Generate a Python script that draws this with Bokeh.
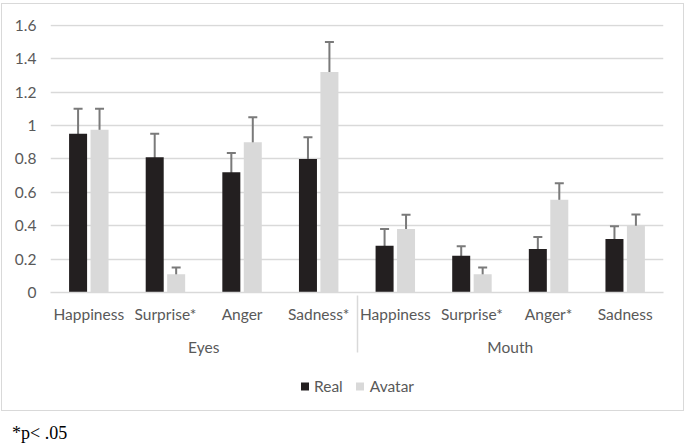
from bokeh.plotting import figure
from bokeh.models import (FactorRange, ColumnDataSource, Whisker, Legend, LegendItem,
                          Div, FixedTicker, Range1d)
from bokeh.transform import dodge
from bokeh.layouts import column
from bokeh.embed import file_html
from bokeh.resources import INLINE

# ---- data ----
regions = ["Eyes", "Eyes", "Eyes", "Eyes", "Mouth", "Mouth", "Mouth", "Mouth"]
emotions = ["Happiness", "Surprise*", "Anger", "Sadness*",
            "Happiness", "Surprise*", "Anger*", "Sadness"]
real_mean = [0.95, 0.81, 0.72, 0.80, 0.28, 0.22, 0.26, 0.32]
real_err = [0.15, 0.14, 0.115, 0.13, 0.10, 0.057, 0.073, 0.077]
avatar_mean = [0.975, 0.11, 0.90, 1.32, 0.38, 0.11, 0.555, 0.40]
avatar_err = [0.125, 0.04, 0.15, 0.18, 0.085, 0.04, 0.10, 0.067]
y_ticks = [0, 0.2, 0.4, 0.6, 0.8, 1, 1.2, 1.4, 1.6]
series = ["Real", "Avatar"]
footnote = "*p< .05"

REAL_COLOR = "#231f20"
AVATAR_COLOR = "#d9d9d9"
ERR_COLOR = "#7a7a7a"
TEXT_COLOR = "#595959"
GRID_COLOR = "#d9d9d9"
FONT = "Lato"
FS = "15.5px"

factors = list(zip(regions, emotions))
source = ColumnDataSource(data=dict(
    x=factors,
    real=real_mean,
    real_lo=[m - e for m, e in zip(real_mean, real_err)],
    real_hi=[m + e for m, e in zip(real_mean, real_err)],
    avatar=avatar_mean,
    avatar_lo=[m - e for m, e in zip(avatar_mean, avatar_err)],
    avatar_hi=[m + e for m, e in zip(avatar_mean, avatar_err)],
))

x_range = FactorRange(*factors, range_padding=0, group_padding=0, factor_padding=0)

p = figure(x_range=x_range, y_range=(0, 1.605), frame_width=613, frame_height=268,
           output_backend="svg", toolbar_location=None,
           min_border_left=48, min_border_right=20, min_border_top=20,
           min_border_bottom=0)
p.outline_line_color = None

off = 0.14
w = 0.235
r_real = p.vbar(x=dodge("x", -off, range=p.x_range), top="real", width=w,
                source=source, fill_color=REAL_COLOR, line_color=None)
r_av = p.vbar(x=dodge("x", off, range=p.x_range), top="avatar", width=w,
              source=source, fill_color=AVATAR_COLOR, line_color=None)

for base_off, lo, hi in [(-off, "real_lo", "real_hi"), (off, "avatar_lo", "avatar_hi")]:
    wk = Whisker(source=source, base=dodge("x", base_off, range=p.x_range),
                 lower=lo, upper=hi, line_color=ERR_COLOR, line_width=2)
    for head in (wk.upper_head, wk.lower_head):
        head.size = 9
        head.line_color = ERR_COLOR
        head.line_width = 2
    p.add_layout(wk)

# axes
p.yaxis.ticker = FixedTicker(ticks=y_ticks)
p.yaxis.major_label_overrides = {0: "0", 1: "1"}
p.yaxis.axis_line_color = None
p.yaxis.major_tick_line_color = None
p.yaxis.major_tick_out = 0
p.yaxis.minor_tick_line_color = None
p.yaxis.major_label_text_font = FONT
p.yaxis.major_label_text_font_size = FS
p.yaxis.major_label_text_color = TEXT_COLOR
p.yaxis.major_label_standoff = 14

p.ygrid.ticker = FixedTicker(ticks=y_ticks)
p.ygrid.grid_line_color = GRID_COLOR
p.ygrid.grid_line_width = 1.5
p.xgrid.grid_line_color = None

xa = p.xaxis[0]
xa.axis_line_color = GRID_COLOR
xa.axis_line_width = 1.5
xa.major_tick_line_color = None
xa.major_tick_out = 0
xa.minor_tick_line_color = None
xa.major_label_text_font = FONT
xa.major_label_text_font_size = FS
xa.major_label_text_color = TEXT_COLOR
xa.major_label_orientation = "horizontal"
xa.group_text_font = FONT
xa.group_text_font_size = FS
xa.group_text_color = TEXT_COLOR
xa.group_text_font_style = "normal"
xa.separator_line_color = GRID_COLOR
xa.separator_line_width = 1.5
xa.major_label_standoff = 12

# legend in its own strip under the chart (zero-height swatch renderers)
swatch_x = [0.5]
swatch_top = [0]
lf = figure(width=681, height=52, x_range=Range1d(0, 1), y_range=Range1d(0, 1),
            output_backend="svg", toolbar_location=None,
            min_border_left=0, min_border_right=0, min_border_top=0, min_border_bottom=0)
lf.axis.visible = False
lf.grid.visible = False
lf.outline_line_color = None
lr_real = lf.vbar(x=swatch_x, top=swatch_top, width=0.01, fill_color=REAL_COLOR, line_color=None)
lr_av = lf.vbar(x=swatch_x, top=swatch_top, width=0.01, fill_color=AVATAR_COLOR, line_color=None)
legend = Legend(items=[LegendItem(label=series[0], renderers=[lr_real]),
                       LegendItem(label=series[1], renderers=[lr_av])],
                orientation="horizontal", location="bottom_center",
                border_line_color=None, background_fill_alpha=0,
                label_text_font=FONT, label_text_font_size=FS,
                label_text_color=TEXT_COLOR, glyph_width=10, glyph_height=10,
                label_height=16, spacing=12, label_standoff=5, padding=0, margin=15)
lf.add_layout(legend)

chart = column(p, lf, spacing=0,
               styles={"border": "1px solid #d9d9d9", "margin-left": "1px",
                       "margin-top": "3px"})
note = Div(text=footnote, width=200, height=22,
           styles={"font-family": "Liberation Serif", "font-size": "18px",
                   "color": "#000000", "margin-left": "12px"})

layout = column(chart, note, spacing=5)
open("out.html", "w").write(file_html(layout, INLINE))
